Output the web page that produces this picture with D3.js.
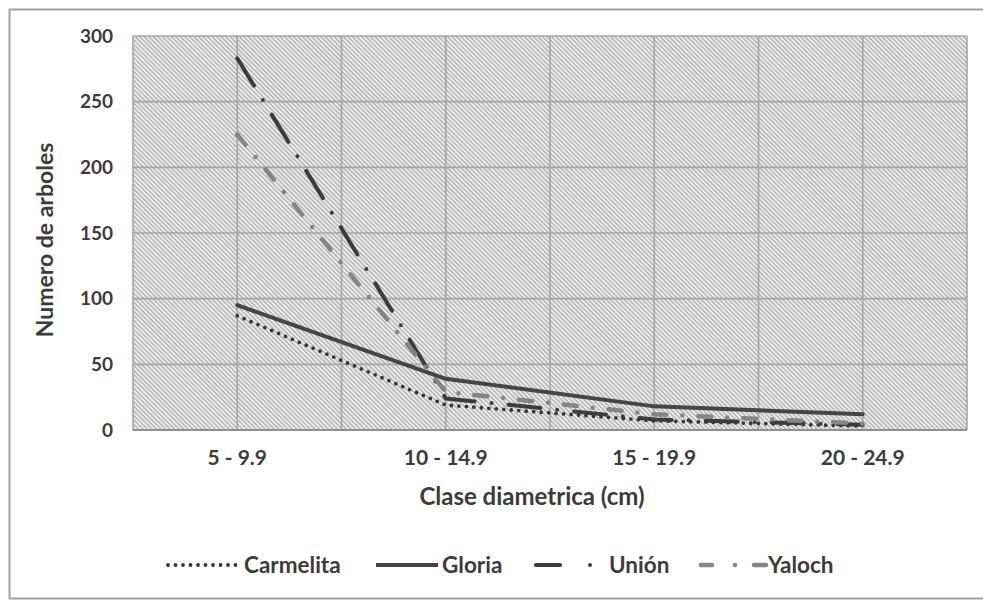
<!DOCTYPE html>
<html>
<head>
<meta charset="utf-8">
<script src="https://cdn.jsdelivr.net/npm/d3@7"></script>
<style>
  body { margin: 0; background: #fff; }
  svg text { font-family: Lato, "Open Sans", sans-serif; fill: #3b3b3b; }
</style>
</head>
<body>
<svg id="grafico"></svg>
<script>
// Dados
const categorias = ['5 - 9.9', '10 - 14.9', '15 - 19.9', '20 - 24.9'];
const carmelita = [87, 19, 7, 3];
const gloria = [95, 39, 18, 12];
const union = [283, 24, 8, 4];
const yaloch = [225, 29, 12, 5];
const ticksY = [0, 50, 100, 150, 200, 250, 300];

const width = 983, height = 601;
const area = { left: 133, right: 967, top: 36, bottom: 430 };

const svg = d3.select('#grafico')
  .attr('width', width)
  .attr('height', height)
  .attr('viewBox', `0 0 ${width} ${height}`);

// moldura externa
svg.append('rect')
  .attr('x', 9.5).attr('y', 9.5)
  .attr('width', width).attr('height', 589)
  .attr('fill', 'none')
  .attr('stroke', '#a3a3a3')
  .attr('stroke-width', 2);

// hachura diagonal do fundo
const defs = svg.append('defs');
const pat = defs.append('pattern')
  .attr('id', 'hachura')
  .attr('patternUnits', 'userSpaceOnUse')
  .attr('width', 3.2).attr('height', 3.2)
  .attr('patternTransform', 'rotate(45)');
pat.append('rect').attr('width', 3.2).attr('height', 3.2).attr('fill', '#ededed');
pat.append('rect').attr('width', 3.2).attr('height', 1.4).attr('fill', '#b2b2b2');

const x = d3.scaleBand().domain(categorias).range([area.left, area.right]).padding(0);
const y = d3.scaleLinear().domain([0, 300]).range([area.bottom, area.top]);
const cx = c => x(c) + x.bandwidth() / 2;

svg.append('rect')
  .attr('x', area.left).attr('y', area.top)
  .attr('width', area.right - area.left)
  .attr('height', area.bottom - area.top)
  .attr('fill', 'url(#hachura)');

// grades
const grade = svg.append('g').attr('stroke', '#a6a6a6').attr('stroke-width', 1.6);
grade.selectAll('line.h')
  .data(ticksY)
  .enter().append('line')
  .attr('x1', area.left).attr('x2', area.right)
  .attr('y1', d => y(d)).attr('y2', d => y(d));

const verticais = [];
categorias.forEach(c => { verticais.push(x(c)); verticais.push(cx(c)); });
verticais.push(area.right);
grade.selectAll('line.v')
  .data(verticais)
  .enter().append('line')
  .attr('x1', d => d).attr('x2', d => d)
  .attr('y1', area.top).attr('y2', area.bottom);

svg.append('line')
  .attr('x1', area.left).attr('x2', area.right)
  .attr('y1', area.bottom).attr('y2', area.bottom)
  .attr('stroke', '#8f8f8f').attr('stroke-width', 2);

// eixos
const eixoY = svg.append('g')
  .attr('transform', `translate(${area.left - 20},0)`)
  .call(d3.axisLeft(y).tickValues(ticksY).tickSize(0).tickPadding(0));
eixoY.select('.domain').remove();
eixoY.selectAll('text')
  .attr('font-size', 19).attr('font-weight', 'bold')
  .style('font-family', 'Lato, sans-serif');

const eixoX = svg.append('g')
  .attr('transform', `translate(0,${area.bottom})`)
  .call(d3.axisBottom(x).tickSize(0).tickPadding(20));
eixoX.select('.domain').remove();
eixoX.selectAll('text')
  .attr('font-size', 21).attr('font-weight', 'bold')
  .style('font-family', 'Lato, sans-serif');

svg.append('text')
  .attr('x', 532).attr('y', 497)
  .attr('text-anchor', 'middle').attr('dy', '0.35em')
  .attr('font-size', 24).attr('font-weight', 'bold')
  .text('Clase diametrica (cm)');

svg.append('text')
  .attr('transform', 'translate(45,240) rotate(-90)')
  .attr('text-anchor', 'middle').attr('dy', '0.35em')
  .attr('font-size', 23).attr('font-weight', 'bold')
  .text('Numero de arboles');

// séries
const series = [
  { nome: 'Carmelita', valores: carmelita, cor: '#363636', largura: 3.8, traco: '0 7.5' },
  { nome: 'Gloria', valores: gloria, cor: '#454545', largura: 4, traco: null },
  { nome: 'Unión', valores: union, cor: '#3c3c3c', largura: 4, traco: '32 17 0 17' },
  { nome: 'Yaloch', valores: yaloch, cor: '#858585', largura: 4.5, traco: '13 16 0 16' }
];

const linha = d3.line()
  .x((d, i) => cx(categorias[i]))
  .y(d => y(d));

svg.append('g').selectAll('path')
  .data(series)
  .enter().append('path')
  .attr('d', d => linha(d.valores))
  .attr('fill', 'none')
  .attr('stroke', d => d.cor)
  .attr('stroke-width', d => d.largura)
  .attr('stroke-dasharray', d => d.traco)
  .attr('stroke-linecap', 'round')
  .attr('stroke-linejoin', 'round');

// legenda
const legenda = [
  { amostra: [[168, 238]], texto: 244 },
  { amostra: [[376, 438]], texto: 442 },
  { amostra: [[536, 560], [590, 590]], texto: 609 },
  { amostra: [[701, 712], [735, 735], [754, 766]], texto: 768 }
];
const yLeg = 565;
legenda.forEach((l, i) => {
  const s = series[i];
  l.amostra.forEach(seg => {
    svg.append('line')
      .attr('x1', seg[0]).attr('x2', seg[1])
      .attr('y1', yLeg).attr('y2', yLeg)
      .attr('stroke', s.cor)
      .attr('stroke-width', s.largura)
      .attr('stroke-linecap', i === 1 ? 'butt' : 'round')
      .attr('stroke-dasharray', i === 0 ? s.traco : null);
  });
  svg.append('text')
    .attr('x', l.texto).attr('y', yLeg).attr('dy', '0.35em')
    .attr('font-size', 22.5).attr('font-weight', 'bold')
    .text(s.nome);
});
</script>
</body>
</html>
